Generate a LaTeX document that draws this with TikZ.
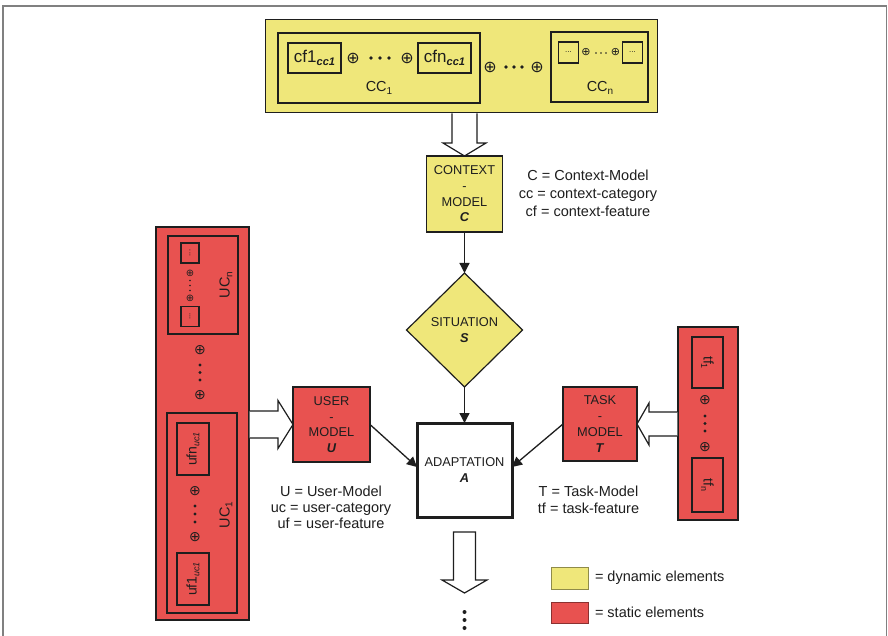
\documentclass[tikz,border=0pt]{standalone}
\usepackage{fontspec}
\setmainfont{Liberation Sans}
\newfontfamily\symfont{DejaVu Sans}
\usepackage{graphicx}
\usetikzlibrary{shapes.geometric,arrows.meta,calc}

\definecolor{dyn}{RGB}{239,231,122}
\definecolor{stat}{RGB}{232,82,80}
\definecolor{ink}{RGB}{30,30,30}

% lowered small text used for subscripts
\newcommand\subtx[2]{\raisebox{-0.35ex}{\fontsize{#1}{#1}\selectfont #2}}

\tikzset{
  base/.style={inner sep=0pt, outer sep=0pt, align=center, text=ink},
  sz/.style 2 args={minimum width=#1, minimum height=#2},
  frame/.style={base, draw=ink, line width=1.2pt},
  dynbox/.style={frame, fill=dyn},
  statbox/.style={frame, fill=stat},
  modeltext/.style={font=\fontsize{12.8}{15.7}\selectfont},
  legend/.style={base, font=\fontsize{14.5}{18}\selectfont},
  osym/.style={base, font=\symfont\fontsize{#1}{#1}\selectfont},
  hollow/.style={draw=ink, line width=1.2pt, fill=white, line join=miter},
  flow/.style={draw=ink, line width=1.3pt, -{Triangle[length=10pt,width=10pt]}},
}

\begin{document}
\begin{tikzpicture}[x=1pt, y=-1pt]
\useasboundingbox (0,0) rectangle (888,636);
\fill[white] (0,0) rectangle (888,636);
\draw[gray, line width=1.6pt] (3,636) -- (3,6) -- (886.5,6) -- (886.5,636);

% ---------- context categories ----------
\node[dynbox, line width=1pt, sz={392pt}{93pt}] (ccall) at (461,66.5) {};
\node[frame, sz={202pt}{70pt}] (cc1) at (379,68) {};
\node[frame, sz={53pt}{30pt}, font=\fontsize{17}{17}\selectfont] (cf1) at (314.5,58)
  {cf1\subtx{11}{\textbf{\textit{cc1}}}};
\node[frame, sz={53pt}{30pt}, font=\fontsize{17}{17}\selectfont] (cfn) at (444.5,58)
  {cfn\subtx{11}{\textbf{\textit{cc1}}}};
\node[osym=16] (op1) at (353,58) {⊕};
\node[osym=16] (op2) at (407,58) {⊕};
\foreach \xx in {371,380,389} \fill[ink] (\xx,58) circle (1.8);
\node[base, font=\fontsize{14.5}{14.5}\selectfont] (cc1lab) at (379,88) {CC\subtx{10}{1}};

\node[osym=16] (op3) at (490,67) {⊕};
\node[osym=16] (op4) at (537,67) {⊕};
\foreach \xx in {506,514,522} \fill[ink] (\xx,67) circle (1.8);

\node[frame, sz={97pt}{70pt}] (ccn) at (599.5,67) {};
\node[frame, sz={20pt}{21pt}, font=\fontsize{8}{8}\selectfont] (ccna) at (568.5,52.5) {...};
\node[frame, sz={20pt}{21pt}, font=\fontsize{8}{8}\selectfont] (ccnb) at (632.5,52.5) {...};
\node[osym=11] (op5) at (586,52.5) {⊕};
\node[osym=11] (op6) at (615.5,52.5) {⊕};
\foreach \xx in {596,601,606} \fill[ink] (\xx,53) circle (0.9);
\node[base, font=\fontsize{14.5}{14.5}\selectfont] (ccnlab) at (600,88) {CC\subtx{10}{n}};

% ---------- context model ----------
\node[dynbox, sz={76pt}{76pt}, modeltext] (ctx) at (464.5,194)
  {CONTEXT\\-\\MODEL\\\textbf{\textit{C}}};
\node[legend] (ctxkey) at (588,193)
  {C = Context-Model\\cc = context-category\\cf = context-feature};

\coordinate (ta) at (ccall.south -| ctx.north);
\filldraw[hollow] ($(ta)+(-12.5,0.5)$) -- ($(ctx.north)+(-12.5,-13)$)
  -- ($(ctx.north)+(-21.5,-13)$) -- (ctx.north) -- ($(ctx.north)+(21.5,-13)$)
  -- ($(ctx.north)+(12.5,-13)$) -- ($(ta)+(12.5,0.5)$);

% ---------- situation and adaptation ----------
\node[dynbox, diamond, sz={116pt}{114pt}, modeltext] (sit) at (464.5,330)
  {SITUATION\\\textbf{\textit{S}}};
\node[frame, line width=3pt, fill=white, sz={95pt}{94pt}, modeltext] (adapt) at (464.5,470)
  {ADAPTATION\\\textbf{\textit{A}}};

% ---------- user side ----------
\node[statbox, sz={93pt}{393pt}] (ucol) at (202.5,423.5) {};
\node[frame, sz={70pt}{98pt}] (ucn) at (203,285) {};
\node[frame, sz={18pt}{20pt}] (ucna) at (190,253) {\rotatebox{90}{\fontsize{8}{8}\selectfont...}};
\node[frame, sz={18pt}{20pt}] (ucnb) at (190,316.5) {\rotatebox{90}{\fontsize{8}{8}\selectfont...}};
\node[osym=10] (op7) at (190,273) {⊕};
\node[osym=10] (op8) at (190,298) {⊕};
\foreach \yy in {280.5,285.5,290.5} \fill[ink] (190,\yy) circle (0.9);
\node[base, rotate=90, font=\fontsize{14.5}{14.5}\selectfont] (ucnlab) at (226,285) {UC\subtx{10}{n}};

\node[osym=14] (op9) at (200,350) {⊕};
\node[osym=14] (op10) at (200,395) {⊕};
\foreach \yy in {365,372.5,380} \fill[ink] (200,\yy) circle (1.6);

\node[frame, sz={70pt}{200pt}] (uc1) at (202,513) {};
\node[frame, sz={32pt}{52pt}] (ufn) at (193,449)
  {\rotatebox{90}{\fontsize{14}{14}\selectfont ufn\subtx{9}{\textit{uc1}}}};
\node[frame, sz={32pt}{52pt}] (uf1) at (193,579)
  {\rotatebox{90}{\fontsize{14}{14}\selectfont uf1\subtx{9}{\textit{uc1}}}};
\node[osym=14] (op11) at (195,491) {⊕};
\node[osym=14] (op12) at (195,537) {⊕};
\foreach \yy in {506,514,522} \fill[ink] (195,\yy) circle (1.7);
\node[base, rotate=90, font=\fontsize{14.5}{14.5}\selectfont] (uc1lab) at (226,515) {UC\subtx{10}{1}};

\node[statbox, sz={77pt}{75pt}, modeltext] (user) at (331.5,424.5)
  {USER\\-\\MODEL\\\textbf{\textit{U}}};
\node[legend, font=\fontsize{14.5}{15.7}\selectfont] (userkey) at (331,507.5)
  {U = User-Model\\uc = user-category\\uf = user-feature};

\coordinate (la) at (ucol.east |- user.west);
\filldraw[hollow] ($(la)+(0.6,-13.5)$) -- ($(user.west)+(-15,-13.5)$)
  -- ($(user.west)+(-15,-24)$) -- (user.west) -- ($(user.west)+(-15,24)$)
  -- ($(user.west)+(-15,13.5)$) -- ($(la)+(0.6,13.5)$);

% ---------- task side ----------
\node[statbox, sz={60pt}{193pt}] (tcol) at (708,423.5) {};
\node[frame, sz={31pt}{51pt}] (tf1) at (707.5,362.5)
  {\rotatebox{-90}{\fontsize{14}{14}\selectfont tf\subtx{9}{1}}};
\node[frame, sz={31pt}{54pt}] (tfn) at (707.5,485)
  {\rotatebox{-90}{\fontsize{14}{14}\selectfont tf\subtx{9}{n}}};
\node[osym=14] (op13) at (705,400) {⊕};
\node[osym=14] (op14) at (705,447) {⊕};
\foreach \yy in {416,423.5,431} \fill[ink] (705,\yy) circle (1.7);

\node[statbox, sz={74pt}{74pt}, modeltext] (task) at (600,424)
  {TASK\\-\\MODEL\\\textbf{\textit{T}}};
\node[legend, font=\fontsize{14.5}{16.5}\selectfont] (taskkey) at (588.5,500)
  {T = Task-Model\\tf = task-feature};

\coordinate (ra) at (tcol.west |- task.east);
\filldraw[hollow] ($(ra)+(-0.6,-12)$) -- ($(task.east)+(12,-12)$)
  -- ($(task.east)+(12,-21)$) -- (task.east) -- ($(task.east)+(12,21)$)
  -- ($(task.east)+(12,12)$) -- ($(ra)+(-0.6,12)$);

% ---------- flow into adaptation ----------
\draw[flow] (ctx) -- (sit);
\draw[flow] (sit) -- (adapt);
\draw[flow] (user.east) -- ($(adapt.west)+(0,-3)$);
\draw[flow] (task.west) -- ($(adapt.east)+(0,-3)$);

% ---------- output ----------
\coordinate (ba) at ($(adapt.south)+(0,15)$);
\coordinate (bt) at ($(adapt.south)+(0,76)$);
\filldraw[hollow] ($(ba)+(-11,0)$) -- ($(bt)+(-11,-13)$) -- ($(bt)+(-22.5,-13)$)
  -- (bt) -- ($(bt)+(22.5,-13)$) -- ($(bt)+(11,-13)$) -- ($(ba)+(11,0)$) -- cycle;
\foreach \yy in {612,620,628} \fill[ink] (464.5,\yy) circle (2);

% ---------- key ----------
\node[base, draw=dyn!60!black, line width=0.8pt, fill=dyn, sz={37pt}{22pt}] (kdyn) at (569.5,578) {};
\node[legend, anchor=west] (kdyntxt) at (595,578) {= dynamic elements};
\node[base, draw=stat!60!black, line width=0.8pt, fill=stat, sz={37pt}{21pt}] (kstat) at (569.5,612.5) {};
\node[legend, anchor=west] (kstattxt) at (595,612.5) {= static elements};
\end{tikzpicture}
\end{document}
